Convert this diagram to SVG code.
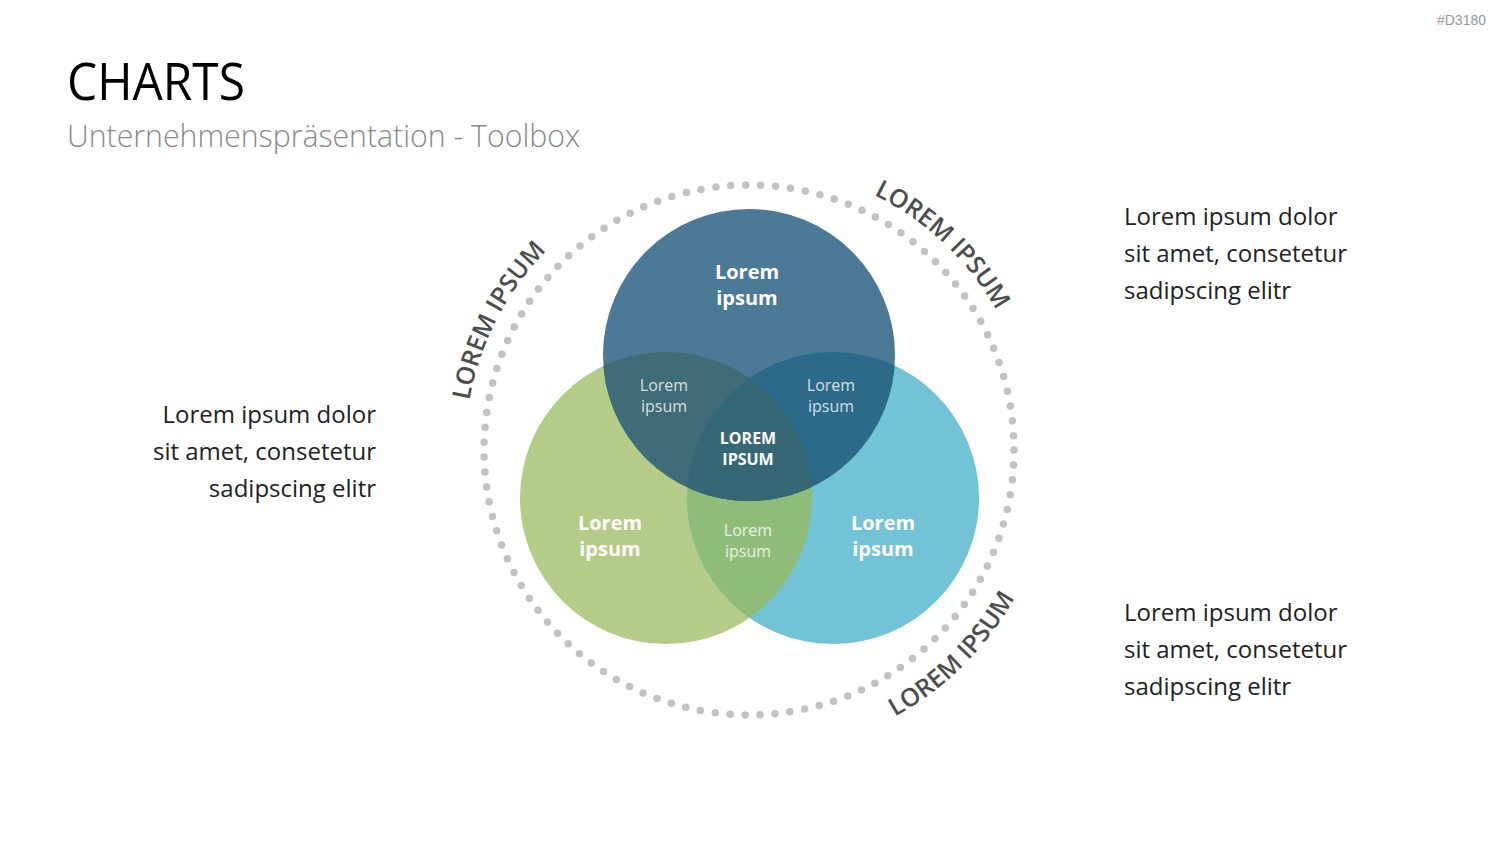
<svg xmlns="http://www.w3.org/2000/svg" width="1500" height="844" viewBox="0 0 1500 844">
<style>
.title{font-family:"Open Sans","Liberation Sans",sans-serif;fill:#000}
.sub{font-family:"Open Sans","Liberation Sans",sans-serif;font-weight:300;fill:#8a8a8a}
.body{font-family:"Open Sans","Liberation Sans",sans-serif;font-size:24px;fill:#222}
.big{font-family:"Open Sans","Liberation Sans",sans-serif;font-size:20px;font-weight:700;fill:#fff;text-anchor:middle}
.small{font-family:"Open Sans","Liberation Sans",sans-serif;font-size:16px;fill:#fff;fill-opacity:0.8;text-anchor:middle}
.center{font-family:"Open Sans","Liberation Sans",sans-serif;font-size:16px;font-weight:700;fill:#fff;text-anchor:middle}
.arc{font-family:"Open Sans","Liberation Sans",sans-serif;font-size:25px;font-weight:600;fill:#4d4d4d;text-anchor:middle}
</style>
<defs>
<clipPath id="clipT"><circle cx="749" cy="355" r="146"/></clipPath>
<clipPath id="clipL"><circle cx="666" cy="498" r="146"/></clipPath>
<clipPath id="clipLT" clip-path="url(#clipT)"><circle cx="666" cy="498" r="146"/></clipPath>
<path id="arcUL" d="M 471.95 512.44 A 284 284 0 0 1 639.4 188.0"/>
<path id="arcUR" d="M 765.35 166.47 A 284 284 0 0 1 1031.06 416.87"/>
<path id="arcLR" d="M 774.44 752.93 A 304 304 0 0 0 1051.75 477.55"/>
</defs>
<rect width="1500" height="844" fill="#fff"/>
<text x="1486" y="25" text-anchor="end" font-family="Liberation Sans, sans-serif" font-size="14" fill="#999">#D3180</text>
<text class="title" x="67" y="100" font-size="52" textLength="178" lengthAdjust="spacingAndGlyphs">CHARTS</text>
<text class="sub" x="67" y="147" font-size="31" textLength="513" lengthAdjust="spacingAndGlyphs">Unternehmenspräsentation - Toolbox</text>

<g id="ring">
<circle cx="749" cy="450" r="265" fill="none" stroke="#c2c2c2" stroke-width="7.5" stroke-linecap="round" stroke-dasharray="0 15.0003"/>
</g>
<g id="arc-labels">
<text class="arc"><textPath href="#arcUL" startOffset="50%">LOREM IPSUM</textPath></text>
<text class="arc"><textPath href="#arcUR" startOffset="50%">LOREM IPSUM</textPath></text>
<text class="arc"><textPath href="#arcLR" startOffset="50%">LOREM IPSUM</textPath></text>
</g>

<g id="circle-left"><circle cx="666" cy="498" r="146" fill="#b4cc87"/></g>
<g id="circle-right"><circle cx="833" cy="498" r="146" fill="#72c3d6"/></g>
<g id="circle-top"><circle cx="749" cy="355" r="146" fill="#4c7996"/></g>
<g id="overlap-left-right"><circle cx="833" cy="498" r="146" fill="#8fbd79" clip-path="url(#clipL)"/></g>
<g id="overlap-top-left"><circle cx="666" cy="498" r="146" fill="#3f6c76" clip-path="url(#clipT)"/></g>
<g id="overlap-top-right"><circle cx="833" cy="498" r="146" fill="#2d6a8a" clip-path="url(#clipT)"/></g>
<g id="overlap-center"><circle cx="833" cy="498" r="146" fill="#356874" clip-path="url(#clipLT)"/></g>

<g id="labels">
<text class="big" x="747" y="279">Lorem</text>
<text class="big" x="747" y="305">ipsum</text>
<text class="big" x="610" y="530">Lorem</text>
<text class="big" x="610" y="556">ipsum</text>
<text class="big" x="883" y="530">Lorem</text>
<text class="big" x="883" y="556">ipsum</text>
<text class="small" x="664" y="391">Lorem</text>
<text class="small" x="664" y="412">ipsum</text>
<text class="small" x="831" y="391">Lorem</text>
<text class="small" x="831" y="412">ipsum</text>
<text class="small" x="748" y="536">Lorem</text>
<text class="small" x="748" y="557">ipsum</text>
<text class="center" x="748" y="444">LOREM</text>
<text class="center" x="748" y="465">IPSUM</text>
</g>

<g id="text-left">
<text class="body" x="376" y="423" text-anchor="end">Lorem ipsum dolor</text>
<text class="body" x="376" y="460" text-anchor="end">sit amet, consetetur</text>
<text class="body" x="376" y="497" text-anchor="end">sadipscing elitr</text>
</g>
<g id="text-right-top">
<text class="body" x="1124" y="225">Lorem ipsum dolor</text>
<text class="body" x="1124" y="262">sit amet, consetetur</text>
<text class="body" x="1124" y="299">sadipscing elitr</text>
</g>
<g id="text-right-bottom">
<text class="body" x="1124" y="621">Lorem ipsum dolor</text>
<text class="body" x="1124" y="658">sit amet, consetetur</text>
<text class="body" x="1124" y="695">sadipscing elitr</text>
</g>
</svg>
